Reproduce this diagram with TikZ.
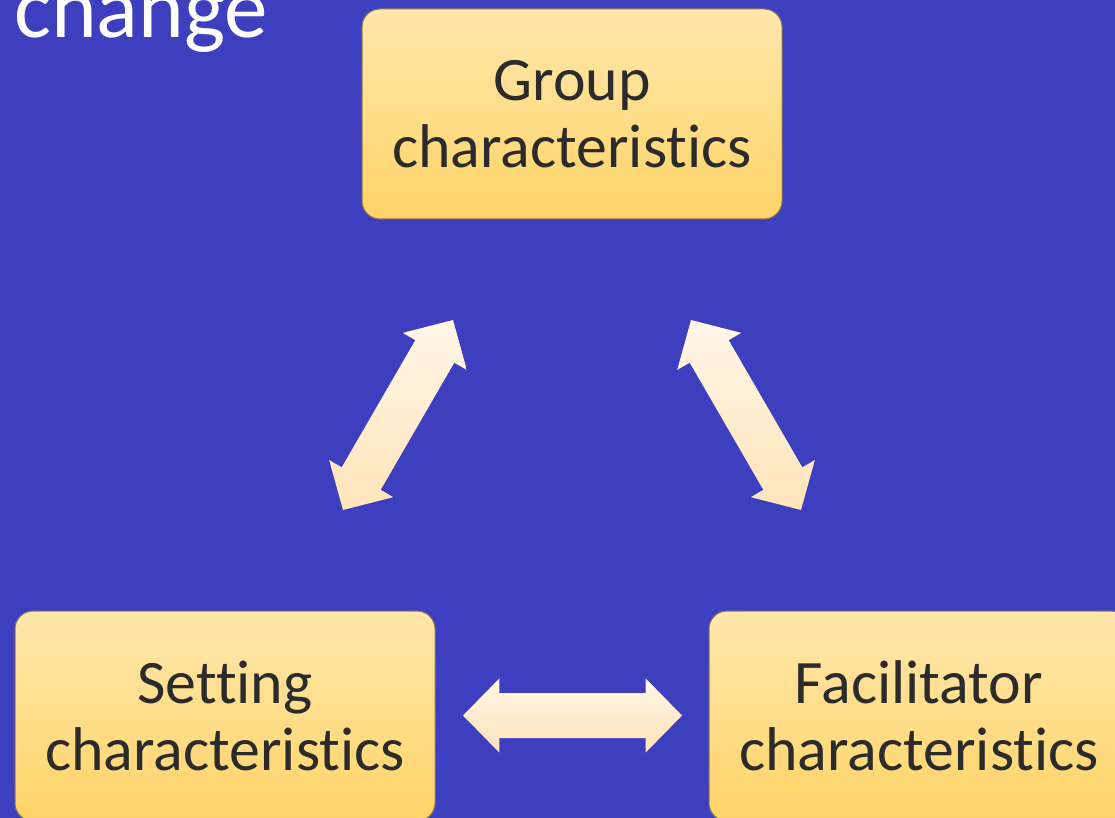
\documentclass[tikz,border=0pt]{standalone}
\usepackage{fontspec}
\setmainfont{Carlito}[Ligatures={NoCommon}]
\usetikzlibrary{calc}

\definecolor{bgblue}{RGB}{62,63,191}
\definecolor{boxtop}{RGB}{255,231,173}
\definecolor{boxbot}{RGB}{255,211,102}
\definecolor{boxline}{RGB}{140,120,80}
\definecolor{arrowtop}{RGB}{255,246,233}
\definecolor{arrowbot}{RGB}{255,228,184}
\definecolor{textdark}{RGB}{43,43,43}

% double-headed block arrow between two named points
\newcommand\dualarrow[2]{%
  \path[blockarrow] (#1)
    -- ($(#1)!36.3pt!(#2)!37pt!90:(#2)$)
    -- ($(#1)!36.3pt!(#2)!22.5pt!90:(#2)$)
    -- ($(#2)!36.3pt!(#1)!22.5pt!-90:(#1)$)
    -- ($(#2)!36.3pt!(#1)!37pt!-90:(#1)$)
    -- (#2)
    -- ($(#2)!36.3pt!(#1)!37pt!90:(#1)$)
    -- ($(#2)!36.3pt!(#1)!22.5pt!90:(#1)$)
    -- ($(#1)!36.3pt!(#2)!22.5pt!-90:(#2)$)
    -- ($(#1)!36.3pt!(#2)!37pt!-90:(#2)$)
    -- cycle;}

\tikzset{
  charbox/.style={draw=boxline, line width=1pt, rounded corners=18pt,
    top color=boxtop, bottom color=boxbot,
    minimum width=420pt, minimum height=210pt, inner sep=0pt,
    align=center, text=textdark,
    font=\fontsize{61.8}{67}\selectfont},
  blockarrow/.style={top color=arrowtop, bottom color=arrowbot, draw=none},
  heading/.style={anchor=base west, text=white, inner sep=0pt,
    font=\fontsize{87}{92}\selectfont}
}

\begin{document}
\begin{tikzpicture}[x=1pt, y=-1pt]
  \useasboundingbox (0,0) rectangle (1115,818);
  \clip (0,0) rectangle (1115,818);
  \fill[bgblue] (0,0) rectangle (1115,818);

  \node[heading] (title) at (14,38) {change};

  \node[charbox] (group) at (572,114) {Group\\characteristics};
  \node[charbox] (setting) at (225,716) {Setting\\characteristics};
  \node[charbox] (facil) at (919,716) {Facilitator\\characteristics};

  % arrow tips
  \coordinate (gsA) at (453,320);
  \coordinate (gsB) at (343,510);
  \coordinate (gfA) at (691,320);
  \coordinate (gfB) at (801,510);
  \coordinate (sfA) at (463,715.5);
  \coordinate (sfB) at (682,715.5);

  \dualarrow{gsA}{gsB}
  \dualarrow{gfA}{gfB}
  \dualarrow{sfA}{sfB}
\end{tikzpicture}
\end{document}
